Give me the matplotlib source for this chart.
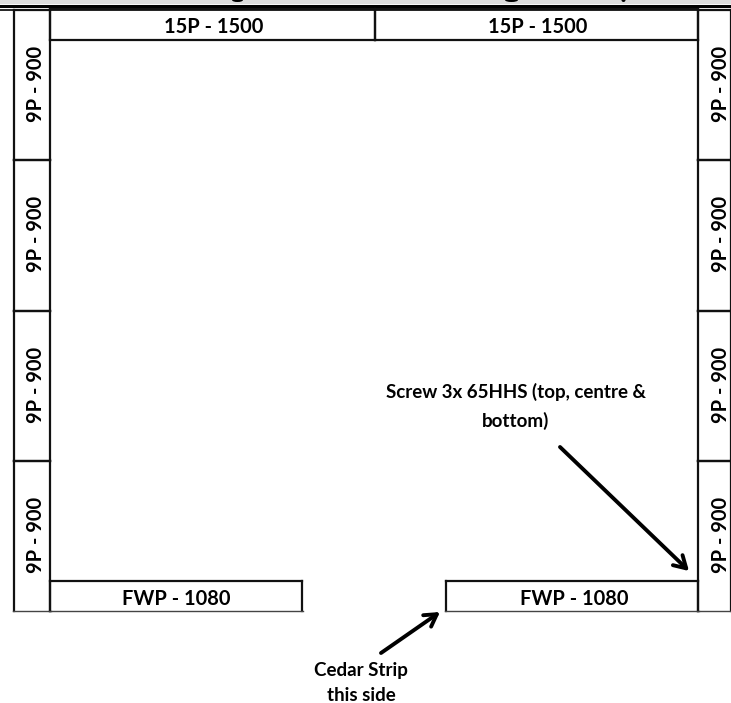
import matplotlib
matplotlib.use("Agg")
import matplotlib.pyplot as plt
from matplotlib.patches import Ellipse, Rectangle

plt.rcParams["font.family"] = ["Lato", "DejaVu Sans"]

# panel layout in pixels
top_panels = [(50, 375, "15P - 1500"), (375, 698, "15P - 1500")]
post_edges = [10, 160, 311, 461, 611]
post_label = "9P - 900"
left_post = (14, 50, 36)
right_post = (698, 731, 721)
bottom_panels = [(50, 302, 176, "FWP - 1080"), (446, 698, 574, "FWP - 1080")]
screw_note = "Screw 3x 65HHS (top, centre &\nbottom)"
cedar_note = "Cedar Strip\nthis side"
# slivers of the title descenders left over at the top edge (x, width)
title_slivers = [(237.5, 11), (511.5, 13), (623.5, 4)]

fig = plt.figure(figsize=(7.31, 7.03), dpi=100)
ax = fig.add_axes([0, 0, 1, 1])
ax.set_xlim(0, 731)
ax.set_ylim(703, 0)
ax.axis("off")

ax.add_patch(Rectangle((0, 0), 731, 4, fc="#dcdcdc", ec="none", zorder=0))
for x, w in title_slivers:
    ax.add_patch(Ellipse((x, 0), w, 4, fc="black", ec="none", zorder=0.5))
ax.plot([0, 731], [5.5, 5.5], color="black", lw=2.2)
ax.plot([0, 731], [9.5, 9.5], color="black", lw=1.2)

lw = 1.6
fs = 14.4


def box(x0, x1, y0, y1):
    ax.plot([x0, x0], [y0, y1], color="#111111", lw=lw)
    ax.plot([x1, x1], [y0, y1], color="#111111", lw=lw)
    ax.plot([x0, x1], [y0, y0], color="#111111", lw=lw)
    # the bottom row of boxes has a thinner, greyer lower edge
    if y1 == 611:
        ax.plot([x0 - 1, x1 + 1], [y1, y1], color="#444444", lw=1.0)
    else:
        ax.plot([x0, x1], [y1, y1], color="#111111", lw=lw)


for x0, x1, label in top_panels:
    box(x0, x1, 9, 40)
    ax.text((x0 + x1) / 2 + 1, 27, label, ha="center", va="center", fontsize=fs, fontweight="bold")

for x0, x1, cx in [left_post, right_post]:
    for y0, y1 in zip(post_edges[:-1], post_edges[1:]):
        box(x0, x1, y0, y1)
        ax.text(cx, (y0 + y1) / 2 - 1.5, post_label, rotation=90, ha="center", va="center",
                fontsize=fs, fontweight="bold")

for x0, x1, cx, label in bottom_panels:
    box(x0, x1, 581, 611)
    ax.text(cx, 599, label, ha="center", va="center", fontsize=fs, fontweight="bold")

ax.text(516, 406.5, screw_note, ha="center", va="center", fontsize=13.5, fontweight="bold", linespacing=1.68)
ax.text(361, 683, cedar_note, ha="center", va="center", fontsize=13.5, fontweight="bold", linespacing=1.6)

arrow = dict(arrowstyle="->,head_length=0.85,head_width=0.5", color="black", lw=2.8, shrinkA=0, shrinkB=0)
ax.annotate("", xy=(689, 571), xytext=(560, 447), arrowprops=arrow)
ax.annotate("", xy=(440, 612), xytext=(381, 653), arrowprops=arrow)

fig.savefig("out.png", dpi=100)
